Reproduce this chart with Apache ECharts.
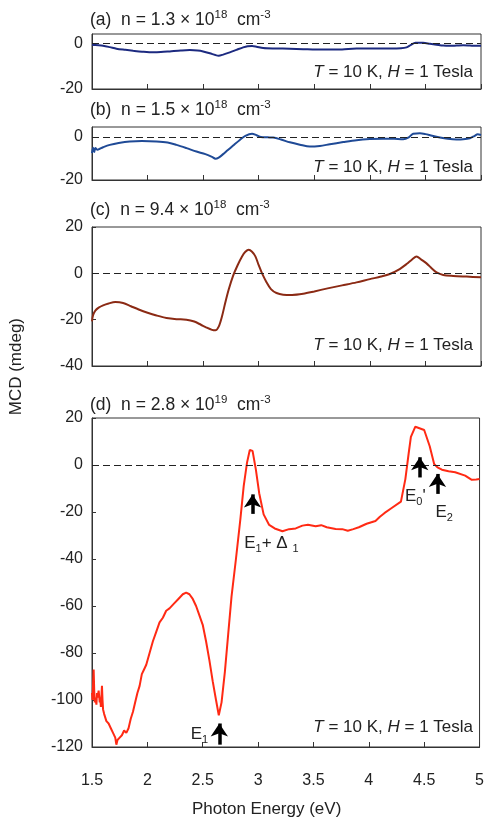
<!DOCTYPE html>
<html><head><meta charset="utf-8">
<script src="https://cdn.jsdelivr.net/npm/echarts@6/dist/echarts.min.js"></script>
<style>html,body{margin:0;padding:0;background:#fff}#c{width:487px;height:819px}</style>
</head><body><div id="c"></div>
<script>
// ---- data ----
const energyA = [1.50,1.53,1.60,1.66,1.72,1.80,1.87,1.95,2.05,2.12,2.20,2.30,2.38,2.45,2.50,2.56,2.61,2.64,2.68,2.74,2.80,2.86,2.90,2.94,2.98,3.04,3.15,3.28,3.40,3.58,3.75,3.88,4.05,4.18,4.28,4.33,4.37,4.41,4.48,4.54,4.60,4.66,4.72,4.78,4.84,4.90,4.95,5.00];
const mcdA = [-0.4,-0.6,-0.9,-1.5,-2.2,-2.7,-3.1,-3.5,-3.8,-3.7,-3.4,-3.0,-2.8,-3.0,-3.4,-4.2,-5.0,-5.3,-4.8,-3.8,-2.7,-1.6,-1.1,-1.0,-1.3,-1.9,-2.1,-2.2,-2.4,-2.6,-2.5,-2.1,-2.1,-2.1,-2.0,-1.6,-0.5,0.4,0.4,0.0,-0.4,-0.8,-0.9,-0.8,-0.7,-0.8,-0.9,-0.9];

const energyB = [1.50,1.51,1.52,1.53,1.55,1.57,1.60,1.66,1.74,1.84,1.95,2.08,2.18,2.26,2.35,2.44,2.52,2.58,2.61,2.64,2.68,2.72,2.77,2.83,2.88,2.94,2.98,3.02,3.08,3.13,3.20,3.28,3.37,3.46,3.55,3.64,3.76,3.88,4.00,4.12,4.22,4.30,4.35,4.39,4.45,4.50,4.56,4.63,4.70,4.78,4.84,4.90,4.94,4.97,5.00];
const mcdB = [-7.5,-5.0,-7.0,-5.2,-6.0,-5.5,-4.8,-3.7,-2.8,-2.1,-1.9,-2.1,-2.6,-3.7,-5.2,-6.8,-8.0,-9.3,-10.1,-9.6,-8.0,-6.2,-4.0,-1.4,0.5,1.5,0.8,0.0,-0.2,-0.3,-1.2,-2.5,-3.6,-4.5,-4.2,-3.4,-2.4,-1.5,-1.0,-0.8,-0.9,-1.1,-0.2,1.5,1.7,1.3,0.5,-0.3,-0.9,-1.2,-1.1,-0.6,0.4,1.2,0.9];

const energyC = [1.50,1.51,1.53,1.56,1.60,1.65,1.71,1.78,1.85,1.92,2.00,2.08,2.17,2.26,2.35,2.42,2.48,2.53,2.58,2.61,2.64,2.67,2.70,2.73,2.77,2.81,2.85,2.88,2.91,2.94,2.97,3.00,3.03,3.07,3.11,3.16,3.22,3.30,3.40,3.50,3.62,3.75,3.88,4.00,4.10,4.18,4.26,4.33,4.38,4.42,4.46,4.51,4.56,4.60,4.66,4.75,4.87,5.00];
const mcdC = [-20.7,-18.0,-16.1,-14.8,-13.8,-13.0,-12.4,-12.8,-14.2,-15.6,-17.0,-18.2,-19.3,-19.8,-20.0,-20.8,-22.2,-23.4,-24.4,-24.6,-23.0,-18.5,-12.5,-7.0,-1.0,3.5,7.3,9.3,10.2,9.3,7.3,3.5,0.0,-3.8,-6.8,-8.5,-9.2,-9.3,-8.8,-7.8,-6.5,-5.2,-3.9,-2.5,-1.4,-0.3,1.6,4.0,6.0,7.3,6.0,4.3,2.0,0.4,-0.7,-1.1,-1.4,-1.7];

const energyD = [1.500,1.505,1.51,1.515,1.52,1.525,1.53,1.54,1.545,1.55,1.56,1.57,1.575,1.58,1.59,1.595,1.60,1.61,1.63,1.65,1.67,1.69,1.71,1.72,1.73,1.75,1.77,1.79,1.81,1.83,1.85,1.87,1.89,1.91,1.93,1.95,1.97,1.99,2.02,2.05,2.08,2.11,2.14,2.17,2.20,2.24,2.28,2.32,2.35,2.38,2.41,2.44,2.47,2.50,2.53,2.56,2.59,2.62,2.645,2.67,2.70,2.73,2.76,2.80,2.84,2.87,2.90,2.925,2.95,2.98,3.01,3.05,3.10,3.15,3.22,3.28,3.34,3.40,3.45,3.52,3.57,3.62,3.70,3.76,3.81,3.86,3.91,3.98,4.06,4.10,4.14,4.20,4.29,4.33,4.36,4.38,4.42,4.50,4.55,4.59,4.62,4.66,4.72,4.78,4.87,4.93,4.97,5.00];
const mcdD = [-97,-100,-93,-87,-96,-101,-99,-102,-97,-99,-96,-101,-99,-103,-94,-100,-104,-106,-109,-110,-112,-114,-116,-119,-117,-116,-115,-113,-114,-112,-108,-105,-101,-97,-94,-89,-87,-85,-80,-75,-71,-67,-65,-62,-61,-59,-57,-55,-54.3,-55,-57,-60,-64,-68,-75,-83,-92,-100,-106.5,-101,-88,-72,-56,-40,-23,-9,1,6.4,6,-2,-12,-21,-25.5,-27,-28.2,-27.3,-27,-25.8,-25.4,-26.1,-25.6,-26.5,-27.2,-27.3,-28,-27.3,-26.5,-25,-23.8,-22,-20.5,-18.5,-15.6,-6,5,12,16.3,14.9,8,0.4,-1,-2,-2.7,-3.1,-4.5,-6.3,-6.2,-6];

const panelLetters = ['(a)','(b)','(c)','(d)'];
const densityMantissa = ['1.3','1.5','9.4','2.8'];
const densityExponent = ['18','18','18','19'];
const yMin = [-20,-20,-40,-120];
const yMax = [4.3,4.6,20,20];
const yInterval = 20;
const xMin = 1.5, xMax = 5, xInterval = 0.5;

// annotations in panel (d), data coordinates
const arrowX = [2.65, 2.95, 4.46, 4.62];
const arrowFrom = [-119, -20.8, -5.3, -12.3];
const arrowTo = [-110, -12.5, 3.3, -3.8];
const annotText = ['{e|E}{s|1}', '{e|E}{s|1}{e|+ Δ }{s|1}', "{e|E}{s|0}{e|'}", '{e|E}{s|2}'];
const annotX = [2.47, 3.12, 4.42, 4.68];
const annotY = [-114.5, -33.5, -13.5, -20];

// ---- styling / layout ----
const FONT = "'Liberation Sans', Arial, sans-serif";
const colors = ['#1c2a80', '#1f4a96', '#8b2a14', '#ff2a14'];
const grids = [
  {left: 92, right: 6, top: 34, height: 55},
  {left: 92, right: 6, top: 127, height: 53},
  {left: 92, right: 6, top: 227, height: 139},
  {left: 92, right: 6, top: 418, height: 329}
];
const titleTops = [9, 99, 199, 394];
const condTops = [61, 156, 334, 716];

const energies = [energyA, energyB, energyC, energyD];
const mcds = [mcdA, mcdB, mcdC, mcdD];

const chart = echarts.init(document.getElementById('c'), null, {renderer: 'canvas'});

const richBase = {
  b: {fontSize: 17.5, lineHeight: 22, verticalAlign: 'middle', fontFamily: FONT, color: '#222'},
  sup: {fontSize: 11.5, lineHeight: 11, verticalAlign: 'top', fontFamily: FONT, color: '#222'}
};
const richAnn = {
  e: {fontSize: 17, lineHeight: 22, verticalAlign: 'middle', fontFamily: FONT, color: '#222'},
  s: {fontSize: 11, lineHeight: 11, verticalAlign: 'bottom', fontFamily: FONT, color: '#222'}
};
const richCond = {
  i: {fontSize: 17, lineHeight: 22, fontStyle: 'italic', fontFamily: FONT, color: '#222'},
  n: {fontSize: 17, lineHeight: 22, fontFamily: FONT, color: '#222'}
};

const xAxes = grids.map((g, i) => ({
  gridIndex: i, type: 'value', min: xMin, max: xMax, interval: xInterval,
  axisLine: {show: true, onZero: false, lineStyle: {color: '#333', width: 1}},
  axisTick: {show: true, inside: true, length: 5, lineStyle: {color: '#333'}},
  splitLine: {show: false},
  axisLabel: {show: i === 3, fontSize: 16, color: '#222', fontFamily: FONT, margin: 26,
    formatter: v => String(v)}
}));
const yAxes = grids.map((g, i) => ({
  gridIndex: i, type: 'value', min: yMin[i], max: yMax[i], interval: yInterval,
  axisLine: {show: true, onZero: false, lineStyle: {color: '#333', width: 1}},
  axisTick: {show: true, inside: true, length: 4, lineStyle: {color: '#333'}},
  splitLine: {show: false},
  axisLabel: {show: true, fontSize: 16, color: '#222', fontFamily: FONT, margin: 9, showMaxLabel: yMax[i] % yInterval === 0}
}));

const series = grids.map((g, i) => {
  const s = {
    type: 'line', xAxisIndex: i, yAxisIndex: i,
    data: energies[i].map((x, k) => [x, mcds[i][k]]),
    showSymbol: false, symbol: 'none', smooth: i === 3 ? false : 0.3,
    lineStyle: {color: colors[i], width: 2},
    z: 3,
    markLine: {
      silent: true, symbol: ['none', 'none'], animation: false,
      label: {show: false},
      lineStyle: {type: 'dashed', color: '#222', width: 1},
      data: [{yAxis: 0, lineStyle: {type: [7, 4], color: '#222', width: 1}}]
    }
  };
  if (i === 3) {
    arrowX.forEach((x, k) => {
      s.markLine.data.push([
        {coord: [x, arrowFrom[k]], symbol: 'none', lineStyle: {type: 'solid', width: 3.5, color: '#000'}},
        {coord: [x, arrowTo[k]], symbol: 'arrow', symbolSize: 13}
      ]);
    });
    s.markPoint = {
      silent: true, animation: false,
      symbol: 'circle', symbolSize: 1, itemStyle: {color: 'rgba(0,0,0,0)'},
      label: {show: true, position: 'inside', rich: richAnn},
      data: annotX.map((x, k) => ({coord: [x, annotY[k]], value: 0, label: {formatter: annotText[k]}}))
    };
  }
  return s;
});

const titles = grids.map((g, i) => ({
  left: 90, top: titleTops[i], padding: 0,
  text: '{b|' + panelLetters[i] + '  n = ' + densityMantissa[i] + ' × 10}{sup|' + densityExponent[i] + '}{b|  cm}{sup|-3}',
  textStyle: {rich: richBase, fontSize: 17, fontFamily: FONT, color: '#222', fontWeight: 'normal'}
}));
const conds = grids.map((g, i) => ({
  right: 14, top: condTops[i], padding: 0,
  text: '{i|T}{n| = 10 K, }{i|H}{n| = 1 Tesla}',
  textStyle: {rich: richCond, fontSize: 17, fontFamily: FONT, color: '#222', fontWeight: 'normal'}
}));

chart.setOption({
  animation: false,
  backgroundColor: '#fff',
  title: titles.concat(conds),
  grid: grids.map(g => Object.assign({show: true, borderColor: '#333', borderWidth: 1, backgroundColor: 'transparent'}, g)),
  xAxis: xAxes,
  yAxis: yAxes,
  series: series,
  graphic: [
    {type: 'text', left: 8, top: 318, rotation: Math.PI / 2, origin: [0, 0],
      style: {text: 'MCD (mdeg)', fontSize: 17, fontFamily: FONT, fill: '#222'}},
    {type: 'text', left: 192, top: 801,
      style: {text: 'Photon Energy (eV)', fontSize: 17, fontFamily: FONT, fill: '#222'}}
  ]
});
</script></body></html>
